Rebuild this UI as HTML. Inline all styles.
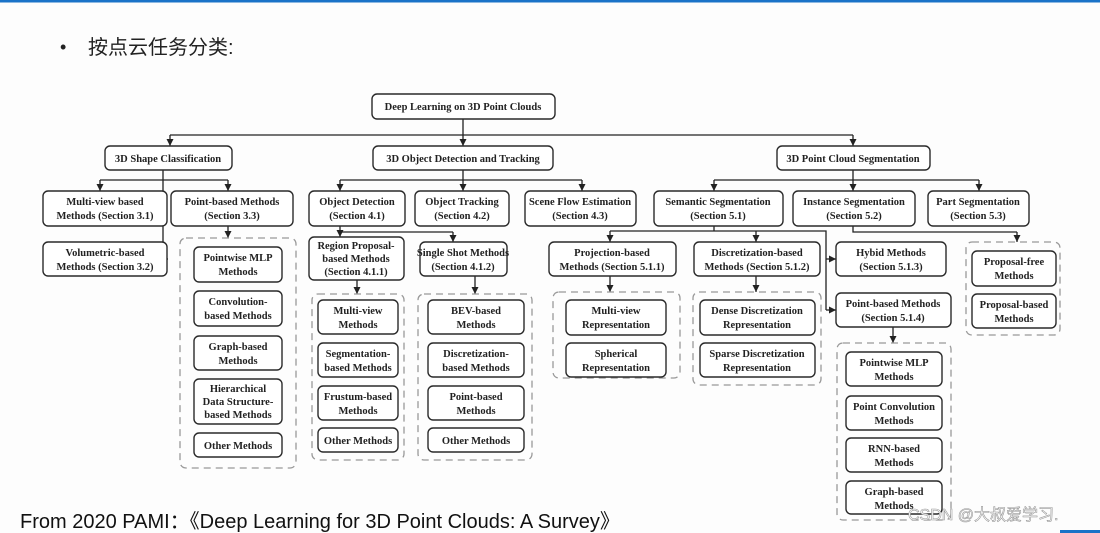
<!DOCTYPE html>
<html><head><meta charset="utf-8"><style>
html,body{margin:0;padding:0;background:#fdfdfd;width:1100px;height:533px;overflow:hidden}
svg{display:block}
.b{fill:#fff;stroke:#2a2a2a;stroke-width:1.4}
.d{fill:none;stroke:#999;stroke-width:1.3;stroke-dasharray:7,5}
.t{font-family:"Liberation Serif",serif;font-weight:bold;font-size:10.5px;fill:#222;text-anchor:middle}
.l{stroke:#222;stroke-width:1.3;fill:none}
</style></head><body>
<svg width="1100" height="533" viewBox="0 0 1100 533" xmlns="http://www.w3.org/2000/svg">
<defs><marker id="a" markerWidth="8" markerHeight="8" refX="7" refY="4" orient="auto" markerUnits="userSpaceOnUse"><path d="M0,0.5 L7,4 L0,7.5 z" fill="#222"/></marker></defs>
<rect x="0" y="0" width="1100" height="2.5" fill="#1a73c8"/>
<rect x="1060" y="530" width="40" height="3" fill="#1a73c8"/>
<text x="60" y="53" font-family="Liberation Sans,sans-serif" font-size="18" fill="#222">•</text>
<text x="88" y="54" font-family="'Liberation Sans','Noto Sans CJK SC',sans-serif" font-size="20" fill="#222">按点云任务分类:</text>
<text x="20" y="528" font-family="'Liberation Sans','Noto Sans CJK SC',sans-serif" font-size="20" fill="#111">From 2020 PAMI：《Deep Learning for 3D Point Clouds: A Survey》</text>

<!-- connectors -->
<path class="l" d="M463,119 V135 M170,135 H853"/>
<path class="l" marker-end="url(#a)" d="M170,135 V146"/>
<path class="l" marker-end="url(#a)" d="M463,135 V146"/>
<path class="l" marker-end="url(#a)" d="M853,135 V146"/>
<path class="l" d="M163,170 V180 M100,180 H228"/>
<path class="l" marker-end="url(#a)" d="M100,180 V191"/>
<path class="l" marker-end="url(#a)" d="M228,180 V191"/>
<path class="l" marker-end="url(#a)" d="M163,180 V259 H168"/>
<path class="l" marker-end="url(#a)" d="M228,226 V238"/>
<path class="l" d="M463,170 V180 M340,180 H582"/>
<path class="l" marker-end="url(#a)" d="M340,180 V191"/>
<path class="l" marker-end="url(#a)" d="M463,180 V191"/>
<path class="l" marker-end="url(#a)" d="M582,180 V191"/>
<path class="l" d="M340,226 V232 H453"/>
<path class="l" marker-end="url(#a)" d="M340,232 V237"/>
<path class="l" marker-end="url(#a)" d="M453,232 V242"/>
<path class="l" marker-end="url(#a)" d="M357,280 V294"/>
<path class="l" marker-end="url(#a)" d="M475,276 V294"/>
<path class="l" d="M853,170 V180 M714,180 H979"/>
<path class="l" marker-end="url(#a)" d="M714,180 V191"/>
<path class="l" marker-end="url(#a)" d="M853,180 V191"/>
<path class="l" marker-end="url(#a)" d="M979,180 V191"/>
<path class="l" d="M714,226 V231 M610,231 H826 V310"/>
<path class="l" marker-end="url(#a)" d="M610,231 V242"/>
<path class="l" marker-end="url(#a)" d="M756,231 V242"/>
<path class="l" marker-end="url(#a)" d="M826,259 H836"/>
<path class="l" marker-end="url(#a)" d="M826,310 H836"/>
<path class="l" d="M853,226 V232 H1017"/>
<path class="l" marker-end="url(#a)" d="M1017,232 V242"/>
<path class="l" marker-end="url(#a)" d="M610,276 V292"/>
<path class="l" marker-end="url(#a)" d="M756,276 V292"/>
<path class="l" marker-end="url(#a)" d="M893,327 V343"/>

<!-- dashed groups -->
<rect class="d" x="180" y="238" width="116" height="230" rx="6"/>
<rect class="d" x="312" y="294" width="92" height="166" rx="6"/>
<rect class="d" x="418" y="294" width="114" height="166" rx="6"/>
<rect class="d" x="553" y="292" width="127" height="86" rx="6"/>
<rect class="d" x="693" y="292" width="128" height="93" rx="6"/>
<rect class="d" x="837" y="343" width="114" height="177" rx="6"/>
<rect class="d" x="966" y="242" width="94" height="93" rx="6"/>

<!-- boxes -->
<rect class="b" x="372" y="94" width="183" height="25" rx="5"/><text class="t" x="463" y="110">Deep Learning on 3D Point Clouds</text>
<rect class="b" x="105" y="146" width="127" height="24" rx="5"/><text class="t" x="168" y="162">3D Shape Classification</text>
<rect class="b" x="373" y="146" width="180" height="24" rx="5"/><text class="t" x="463" y="162">3D Object Detection and Tracking</text>
<rect class="b" x="777" y="146" width="153" height="24" rx="5"/><text class="t" x="853" y="162">3D Point Cloud Segmentation</text>

<rect class="b" x="43" y="191" width="124" height="35" rx="5"/><text class="t" x="105" y="205">Multi-view based</text><text class="t" x="105" y="219">Methods (Section 3.1)</text>
<rect class="b" x="171" y="191" width="122" height="35" rx="5"/><text class="t" x="232" y="205">Point-based Methods</text><text class="t" x="232" y="219">(Section 3.3)</text>
<rect class="b" x="43" y="242" width="124" height="34" rx="5"/><text class="t" x="105" y="256">Volumetric-based</text><text class="t" x="105" y="270">Methods (Section 3.2)</text>
<rect class="b" x="309" y="191" width="96" height="35" rx="5"/><text class="t" x="357" y="205">Object Detection</text><text class="t" x="357" y="219">(Section 4.1)</text>
<rect class="b" x="415" y="191" width="94" height="35" rx="5"/><text class="t" x="462" y="205">Object Tracking</text><text class="t" x="462" y="219">(Section 4.2)</text>
<rect class="b" x="525" y="191" width="111" height="35" rx="5"/><text class="t" x="580" y="205">Scene Flow Estimation</text><text class="t" x="580" y="219">(Section 4.3)</text>
<rect class="b" x="654" y="191" width="129" height="35" rx="5"/><text class="t" x="718" y="205">Semantic Segmentation</text><text class="t" x="718" y="219">(Section 5.1)</text>
<rect class="b" x="793" y="191" width="122" height="35" rx="5"/><text class="t" x="854" y="205">Instance Segmentation</text><text class="t" x="854" y="219">(Section 5.2)</text>
<rect class="b" x="928" y="191" width="101" height="35" rx="5"/><text class="t" x="978" y="205">Part Segmentation</text><text class="t" x="978" y="219">(Section 5.3)</text>

<rect class="b" x="194" y="247" width="88" height="35" rx="5"/><text class="t" x="238" y="261">Pointwise MLP</text><text class="t" x="238" y="275">Methods</text>
<rect class="b" x="194" y="291" width="88" height="35" rx="5"/><text class="t" x="238" y="305">Convolution-</text><text class="t" x="238" y="319">based Methods</text>
<rect class="b" x="194" y="336" width="88" height="34" rx="5"/><text class="t" x="238" y="350">Graph-based</text><text class="t" x="238" y="364">Methods</text>
<rect class="b" x="194" y="379" width="88" height="45" rx="5"/><text class="t" x="238" y="392">Hierarchical</text><text class="t" x="238" y="405">Data Structure-</text><text class="t" x="238" y="418">based Methods</text>
<rect class="b" x="194" y="433" width="88" height="24" rx="5"/><text class="t" x="238" y="449">Other Methods</text>

<rect class="b" x="309" y="237" width="95" height="43" rx="5"/><text class="t" x="356" y="249">Region Proposal-</text><text class="t" x="356" y="262">based Methods</text><text class="t" x="356" y="275">(Section 4.1.1)</text>
<rect class="b" x="420" y="242" width="87" height="34" rx="5"/><text class="t" x="463" y="256">Single Shot Methods</text><text class="t" x="463" y="270">(Section 4.1.2)</text>

<rect class="b" x="318" y="300" width="80" height="34" rx="5"/><text class="t" x="358" y="314">Multi-view</text><text class="t" x="358" y="328">Methods</text>
<rect class="b" x="318" y="343" width="80" height="34" rx="5"/><text class="t" x="358" y="357">Segmentation-</text><text class="t" x="358" y="371">based Methods</text>
<rect class="b" x="318" y="386" width="80" height="34" rx="5"/><text class="t" x="358" y="400">Frustum-based</text><text class="t" x="358" y="414">Methods</text>
<rect class="b" x="318" y="428" width="80" height="24" rx="5"/><text class="t" x="358" y="444">Other Methods</text>

<rect class="b" x="428" y="300" width="96" height="34" rx="5"/><text class="t" x="476" y="314">BEV-based</text><text class="t" x="476" y="328">Methods</text>
<rect class="b" x="428" y="343" width="96" height="34" rx="5"/><text class="t" x="476" y="357">Discretization-</text><text class="t" x="476" y="371">based Methods</text>
<rect class="b" x="428" y="386" width="96" height="34" rx="5"/><text class="t" x="476" y="400">Point-based</text><text class="t" x="476" y="414">Methods</text>
<rect class="b" x="428" y="428" width="96" height="24" rx="5"/><text class="t" x="476" y="444">Other Methods</text>

<rect class="b" x="549" y="242" width="127" height="34" rx="5"/><text class="t" x="612" y="256">Projection-based</text><text class="t" x="612" y="270">Methods (Section 5.1.1)</text>
<rect class="b" x="694" y="242" width="126" height="34" rx="5"/><text class="t" x="757" y="256">Discretization-based</text><text class="t" x="757" y="270">Methods (Section 5.1.2)</text>
<rect class="b" x="836" y="242" width="110" height="34" rx="5"/><text class="t" x="891" y="256">Hybid Methods</text><text class="t" x="891" y="270">(Section 5.1.3)</text>
<rect class="b" x="836" y="293" width="115" height="34" rx="5"/><text class="t" x="893" y="307">Point-based Methods</text><text class="t" x="893" y="321">(Section 5.1.4)</text>

<rect class="b" x="566" y="300" width="100" height="35" rx="5"/><text class="t" x="616" y="314">Multi-view</text><text class="t" x="616" y="328">Representation</text>
<rect class="b" x="566" y="343" width="100" height="34" rx="5"/><text class="t" x="616" y="357">Spherical</text><text class="t" x="616" y="371">Representation</text>
<rect class="b" x="700" y="300" width="115" height="35" rx="5"/><text class="t" x="757" y="314">Dense Discretization</text><text class="t" x="757" y="328">Representation</text>
<rect class="b" x="700" y="343" width="115" height="34" rx="5"/><text class="t" x="757" y="357">Sparse Discretization</text><text class="t" x="757" y="371">Representation</text>

<rect class="b" x="846" y="352" width="96" height="34" rx="5"/><text class="t" x="894" y="366">Pointwise MLP</text><text class="t" x="894" y="380">Methods</text>
<rect class="b" x="846" y="396" width="96" height="34" rx="5"/><text class="t" x="894" y="410">Point Convolution</text><text class="t" x="894" y="424">Methods</text>
<rect class="b" x="846" y="438" width="96" height="34" rx="5"/><text class="t" x="894" y="452">RNN-based</text><text class="t" x="894" y="466">Methods</text>
<rect class="b" x="846" y="481" width="96" height="33" rx="5"/><text class="t" x="894" y="495">Graph-based</text><text class="t" x="894" y="509">Methods</text>

<rect class="b" x="972" y="251" width="84" height="35" rx="5"/><text class="t" x="1014" y="265">Proposal-free</text><text class="t" x="1014" y="279">Methods</text>
<rect class="b" x="972" y="294" width="84" height="34" rx="5"/><text class="t" x="1014" y="308">Proposal-based</text><text class="t" x="1014" y="322">Methods</text>

<text x="908" y="520" font-family="'Liberation Sans','Noto Sans CJK SC',sans-serif" font-size="16" fill="#fff" stroke="#999" stroke-width="0.6">CSDN @大叔爱学习.</text>
</svg>
</body></html>
